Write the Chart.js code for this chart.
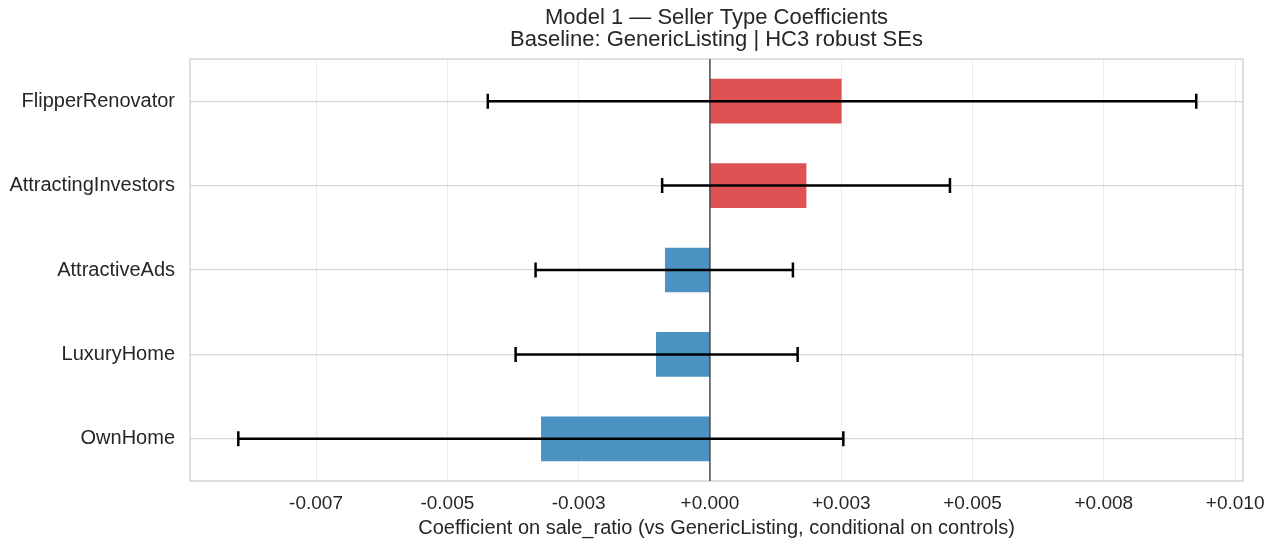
<!DOCTYPE html>
<html>
<head>
<meta charset="utf-8">
<script src="https://cdn.jsdelivr.net/npm/chart.js@4"></script>
<style>
  html, body { margin: 0; padding: 0; background: #fff; }
  #wrap { width: 1280px; height: 544px; }
</style>
</head>
<body>
<div id="wrap"><canvas id="chart"></canvas></div>
<script>
// seller types, top to bottom
const categories = ['FlipperRenovator', 'AttractingInvestors', 'AttractiveAds', 'LuxuryHome', 'OwnHome'];
const coefs = [0.00250, 0.00183, -0.00085, -0.00102, -0.00321];
const ciLow = [-0.00423, -0.00091, -0.00332, -0.00370, -0.00898];
const ciHigh = [0.00926, 0.00457, 0.00158, 0.00167, 0.00254];

const tickValues = [-0.0075, -0.005, -0.0025, 0, 0.0025, 0.005, 0.0075, 0.01];
const tickLabels = ['-0.007', '-0.005', '-0.003', '+0.000', '+0.003', '+0.005', '+0.008', '+0.010'];

const titleLines = ['Model 1 \u2014 Seller Type Coefficients', 'Baseline: GenericListing | HC3 robust SEs'];

const RED = 'rgba(214, 39, 40, 0.8)';
const BLUE = 'rgba(31, 119, 180, 0.8)';
const FONT = '"Liberation Sans", Arial, sans-serif';
const TEXT = '#262626';

// box, zero line, error bars and title
const extras = {
  id: 'extras',
  beforeDatasetsDraw(chart) {
    const { ctx, chartArea: a } = chart;
    ctx.save();
    ctx.strokeStyle = '#cccccc';
    ctx.lineWidth = 1.25;
    ctx.strokeRect(a.left, a.top, a.right - a.left, a.bottom - a.top);
    ctx.restore();
  },
  afterDatasetsDraw(chart) {
    const { ctx, chartArea: a, scales } = chart;
    const x = scales.x, y = scales.y;
    ctx.save();
    // zero line
    const x0 = x.getPixelForValue(0);
    ctx.strokeStyle = '#333333';
    ctx.lineWidth = 1.3;
    ctx.beginPath();
    ctx.moveTo(x0, a.top);
    ctx.lineTo(x0, a.bottom);
    ctx.stroke();
    // error bars
    ctx.strokeStyle = '#000000';
    ctx.lineWidth = 2.5;
    categories.forEach((c, i) => {
      const yp = y.getPixelForValue(i);
      const xl = x.getPixelForValue(ciLow[i]);
      const xh = x.getPixelForValue(ciHigh[i]);
      ctx.beginPath();
      ctx.moveTo(xl, yp); ctx.lineTo(xh, yp);
      ctx.moveTo(xl, yp - 7.5); ctx.lineTo(xl, yp + 7.5);
      ctx.moveTo(xh, yp - 7.5); ctx.lineTo(xh, yp + 7.5);
      ctx.stroke();
    });
    // title
    ctx.fillStyle = TEXT;
    ctx.font = '22px ' + FONT;
    ctx.textAlign = 'center';
    ctx.textBaseline = 'middle';
    const cx = (a.left + a.right) / 2;
    ctx.fillText(titleLines[0], cx, 18);
    ctx.fillText(titleLines[1], cx, 40);
    ctx.restore();
  }
};

new Chart(document.getElementById('chart'), {
  type: 'bar',
  data: {
    labels: categories,
    datasets: [{
      data: coefs,
      backgroundColor: coefs.map(v => v >= 0 ? RED : BLUE),
      borderWidth: 0,
      barThickness: 44
    }]
  },
  options: {
    indexAxis: 'y',
    responsive: true,
    maintainAspectRatio: false,
    animation: false,
    layout: { padding: { top: 59, right: 37, bottom: 0, left: 0 } },
    plugins: {
      legend: { display: false },
      tooltip: { enabled: false }
    },
    scales: {
      x: {
        min: -0.0099,
        max: 0.01015,
        afterFit(scale) { scale.height = 63; },
        afterBuildTicks(scale) {
          scale.ticks = tickValues.map(v => ({ value: v }));
        },
        ticks: {
          color: TEXT,
          font: { family: FONT, size: 19 },
          padding: 11,
          maxRotation: 0,
          callback(value) {
            const i = tickValues.findIndex(t => Math.abs(t - value) < 1e-9);
            return i >= 0 ? tickLabels[i] : '';
          }
        },
        grid: { color: '#ebebeb', lineWidth: 1, drawTicks: false },
        border: { display: false },
        title: {
          display: true,
          text: 'Coefficient on sale_ratio (vs GenericListing, conditional on controls)',
          color: TEXT,
          font: { family: FONT, size: 20 },
          padding: { top: 0, bottom: 4 }
        }
      },
      y: {
        afterFit(scale) { scale.width = 190; },
        ticks: {
          color: TEXT,
          font: { family: FONT, size: 20 },
          padding: 15
        },
        grid: { color: '#d6d6d6', lineWidth: 1.3, offset: false, drawTicks: false },
        border: { display: false }
      }
    }
  },
  plugins: [extras]
});
</script>
</body>
</html>
